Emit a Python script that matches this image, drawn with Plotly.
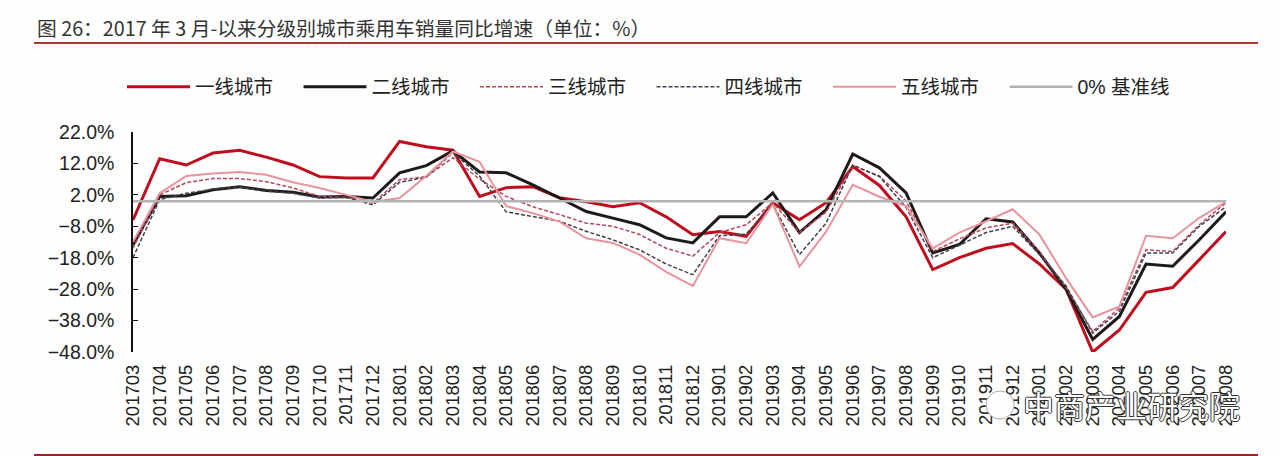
import plotly.graph_objects as go

months = ['201703', '201704', '201705', '201706', '201707', '201708', '201709', '201710', '201711', '201712',
          '201801', '201802', '201803', '201804', '201805', '201806', '201807', '201808', '201809', '201810',
          '201811', '201812', '201901', '201902', '201903', '201904', '201905', '201906', '201907', '201908',
          '201909', '201910', '201911', '201912', '202001', '202002', '202003', '202004', '202005', '202006',
          '202007', '202008']

tier1 = [-6, 13.5, 11.5, 15.3, 16.2, 14, 11.5, 7.8, 7.4, 7.4,
         19, 17.3, 16.2, 1.5, 4.3, 4.6, 1.1, -0.2, -1.8, -0.5,
         -5, -10.7, -9.7, -11.2, -0.5, -5.9, -0.5, 11, 5, -5,
         -21.8, -18, -15, -13.5, -20, -28, -48, -41, -29, -27.5,
         -18.6, -9.7]
tier2 = [-14, 1.5, 1.7, 3.6, 4.6, 3.4, 2.8, 1.3, 1.5, 1,
         9, 11.3, 16, 9.3, 9, 5.2, 1, -3.3, -5.4, -7.5,
         -11.7, -13.3, -5, -5, 2.6, -10, -2.7, 15, 10.6, 2.6,
         -16.5, -13.8, -5.6, -6.6, -16.5, -28, -44, -36.7, -20, -20.7,
         -12.3, -3.4]
tier3 = [-15, 2, 5.9, 7.2, 7.2, 6.2, 4.2, 1.5, 1.2, -0.6,
         6.8, 7.8, 13.8, 7, 1.5, -1.8, -4.3, -7, -8, -10.6,
         -15, -17.5, -10, -7.5, -0.5, -10, -3.5, 11.3, 8, 0,
         -16, -12, -8.5, -7, -16, -27.5, -41.5, -34, -15.5, -16,
         -7.5, -0.5]
tier4 = [-18, 0.5, 2.5, 3.8, 4.5, 3.2, 2.5, 1, 1.2, -1.2,
         6, 7.6, 15.5, 8, -3.4, -4.8, -6.4, -9.6, -12.3, -15.5,
         -20, -23.4, -11, -10.5, -1, -17, -7, 11.5, 7.8, -2,
         -18, -14, -10, -8, -17, -27, -42, -35, -16.5, -16.5,
         -8, -1.8]
tier5 = [-13, 2.5, 8, 8.8, 9.3, 8.4, 6, 4.2, 2, -0.3,
         1, 8, 15.8, 12.5, -1.6, -3.8, -6.5, -11.8, -13.3, -17,
         -22.5, -27, -11.8, -13.4, -1, -20.8, -9.7, 5.2, 1.4, -1.6,
         -15, -10, -6.4, -2.6, -10.6, -24.5, -37, -33.5, -11, -11.8,
         -5.3, -0.2]
base = [0] * len(months)

W, H = 1280, 456
L, R, T, B = 133, 54, 132, 104
TEXT_FONT = 'Liberation Sans, Noto Sans CJK SC'
# white letters with a thin dark edge, like the stamp on the source image
STAMP_EDGE = '1px 0 0 #333, -1px 0 0 #333, 0 1px 0 #333, 0 -1px 0 #333'


def px_x(x):
    return (x - L) / (W - L - R)


def px_y(y):
    return 1 - (y - T) / (H - T - B)


fig = go.Figure()
series = [('一线城市', tier1, '#c00d1e', 3, 'solid'),
          ('二线城市', tier2, '#1f1a17', 3, 'solid'),
          ('三线城市', tier3, '#b5485a', 1.5, '4px,2px'),
          ('四线城市', tier4, '#404050', 1.5, '4px,2px'),
          ('五线城市', tier5, '#e8939e', 2, 'solid'),
          ('0% 基准线', base, '#b4b4b4', 2.5, 'solid')]
for name, vals, color, width, dash in series:
    fig.add_trace(go.Scatter(x=months, y=vals, name=name, mode='lines',
                             line=dict(color=color, width=width, dash=dash)))

fig.update_layout(
    width=W, height=H, autosize=False,
    margin=dict(l=L, r=R, t=T, b=B),
    paper_bgcolor='#fefefe', plot_bgcolor='#fefefe',
    font=dict(family=TEXT_FONT, color='#222222', size=18),
    title=dict(text='图 26：2017 年 3 月-以来分级别城市乘用车销量同比增速（单位：%）',
               x=37 / W, xanchor='left', y=1 - 29 / H, yanchor='middle',
               font=dict(family='Noto Sans CJK SC, Liberation Sans', size=19.75, color='#333333')),
    legend=dict(orientation='h', x=px_x(122), xanchor='left', y=px_y(87), yanchor='middle',
                font=dict(size=19.5, color='#222222'), itemwidth=63,
                entrywidth=98.5, entrywidthmode='pixels', bgcolor='rgba(0,0,0,0)'),
    shapes=[dict(type='line', xref='paper', yref='paper', x0=px_x(34), x1=px_x(1258),
                 y0=px_y(43), y1=px_y(43), line=dict(color='#b5342f', width=2)),
            dict(type='line', xref='paper', yref='paper', x0=px_x(34), x1=px_x(1258),
                 y0=px_y(455), y1=px_y(455), line=dict(color='#a5202c', width=2)),
            dict(type='circle', xref='paper', yref='paper', x0=px_x(986), x1=px_x(1014),
                 y0=px_y(419), y1=px_y(391), fillcolor='#fefefe',
                 line=dict(color='#aaaaaa', width=1))],
    annotations=[dict(text='中商产业研究院', xref='paper', yref='paper', x=px_x(1131), y=px_y(404),
                      xanchor='center', yanchor='middle', showarrow=False,
                      font=dict(family='Noto Sans CJK SC', size=31, color='#ffffff', shadow=STAMP_EDGE))],
)
fig.update_xaxes(type='category', categoryorder='array', categoryarray=months,
                 range=[0, len(months) - 1], tickangle=-90, showgrid=False, zeroline=False,
                 showline=False, ticks='', ticklabelstandoff=8, tickfont=dict(size=18.5, color='#222222'))
fig.update_yaxes(range=[-48, 22], tick0=-48, dtick=10, ticksuffix='%', tickformat='.1f',
                 showgrid=False, zeroline=False, showline=True, linecolor='#111111', linewidth=1.5,
                 ticks='inside', ticklen=5, tickcolor='#111111', ticklabelstandoff=13,
                 tickfont=dict(size=19.5, color='#222222'))

# page margin would push the chart 8px off the window
fig.write_html('out.html', config=dict(displayModeBar=False),
               post_script="document.body.style.margin='0';")
